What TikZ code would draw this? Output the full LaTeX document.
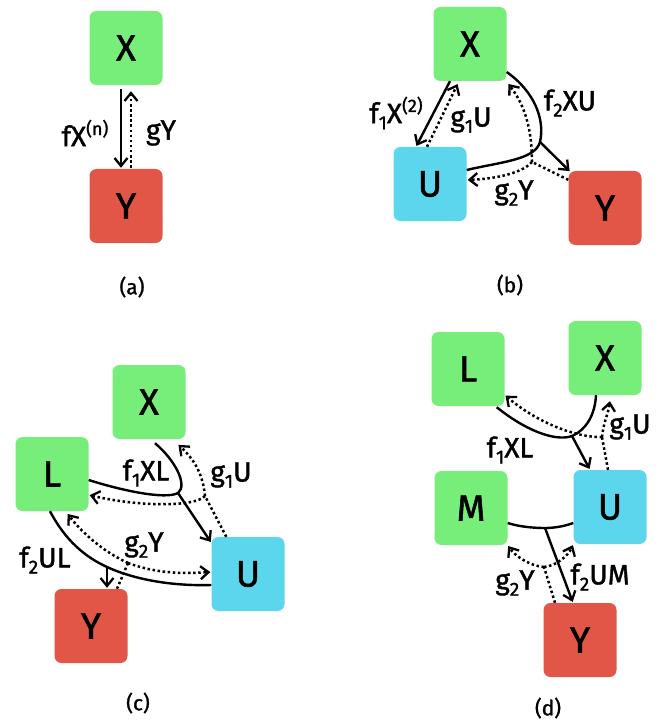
\documentclass[tikz,border=0pt]{standalone}
\usepackage{fontspec}
\setmainfont{Fira Sans}[FakeBold=1.3]
\usetikzlibrary{arrows.meta}
\definecolor{cgreen}{RGB}{120,238,122}
\definecolor{cred}{RGB}{226,86,72}
\definecolor{ccyan}{RGB}{92,214,236}
\newcommand\dsub[1]{\raisebox{-0.22em}{\fontsize{19}{19}\selectfont #1}}
\newcommand\dsup[1]{\raisebox{0.40em}{\fontsize{18}{18}\selectfont #1}}
\tikzset{
  box/.style={rounded corners=7pt, minimum width=73pt, minimum height=74pt, inner sep=0pt,
              font=\fontsize{37}{37}\selectfont},
  gnode/.style={box, fill=cgreen},
  rnode/.style={box, fill=cred},
  cnode/.style={box, fill=ccyan},
  sline/.style={line width=2.4pt},
  dline/.style={line width=2.5pt, dash pattern=on 2.5pt off 2.6pt},
  tip/.style={-{Straight Barb[length=8pt,width=13pt,line width=2.3pt]}, shorten >=1pt},
  lab/.style={font=\fontsize{28}{28}\selectfont, inner sep=0pt},
  capt/.style={font=\fontsize{21}{21}\selectfont, inner sep=0pt}
}
\begin{document}
\begin{tikzpicture}[x=1pt,y=-1pt]
\useasboundingbox (0,0) rectangle (662,722);

% ---------- (a)
\node[gnode] (aX) at (126,48) {X};
\node[rnode] (aY) at (126,206) {Y};
\draw[sline,tip,shorten <=4pt] ([xshift=-5pt]aX.south) -- ([xshift=-5pt]aY.north);
\draw[dline,tip,shorten <=1pt] ([xshift=5pt]aY.north) -- ([xshift=5pt,yshift=-5pt]aX.south);
\node[lab] (aL1) at (85,133) {fX\dsup{(n)}};
\node[lab] (aL2) at (161,133) {gY};
\node[capt] (aC) at (132,287) {(a)};

% ---------- (b)
\node[gnode] (bX) at (470,44) {X};
\node[cnode] (bU) at (430,184) {U};
\node[rnode] (bY) at (605,208) {Y};
\coordinate (bj1) at (540,142);
\coordinate (bj2) at (532,162);
\draw[sline,tip] ([xshift=-20pt]bX.south) -- ([xshift=-14pt]bU.north);
\draw[dline,tip] ([xshift=-3pt]bU.north) -- ([xshift=-12pt,yshift=-2pt]bX.south);
\draw[sline] ([yshift=-28pt]bX.east) .. controls (535,92) and (545,120) .. (bj1)
      .. controls (535,160) and (500,162) .. ([yshift=14pt]bU.east);
\draw[sline,tip] (bj1) -- ([xshift=2pt,yshift=-1pt]bY.north west);
\draw[dline] ([yshift=-9pt]bY.north west) -- (bj2);
\draw[dline,tip] (bj2) .. controls (532,130) and (525,105) .. ([xshift=1pt,yshift=-2pt]bX.south east);
\draw[dline,tip] (bj2) .. controls (520,175) and (490,179) .. ([yshift=4pt]bU.east);
\node[lab] (bL1) at (396,113) {f\dsub{1}X\dsup{(2)}};
\node[lab] (bL2) at (471,120) {g\dsub{1}U};
\node[lab] (bL3) at (570,103) {f\dsub{2}XU};
\node[lab] (bL4) at (514,193) {g\dsub{2}Y};
\node[capt] (bC) at (510,285) {(b)};

% ---------- (c)
\node[gnode] (cX) at (149,402) {X};
\node[gnode] (cL) at (52,474) {L};
\node[cnode] (cU) at (248,574) {U};
\node[rnode] (cY) at (91,626) {Y};
\coordinate (cj1) at (178,493);
\coordinate (cj2) at (205,496);
\coordinate (cj3) at (107,567);
\coordinate (cj4) at (128,563);
\draw[sline] ([xshift=6pt,yshift=-4pt]cX.south) .. controls (175,460) and (188,485) .. (cj1)
      .. controls (165,500) and (120,490) .. ([yshift=-6pt]cL.east);
\draw[sline,tip] (cj1) -- ([yshift=-6pt]cU.north west);
\draw[dline] ([xshift=15pt]cU.north west) -- (cj2);
\draw[dline,tip] (cj2) .. controls (203,475) and (195,460) .. ([xshift=-8pt,yshift=-5pt]cX.south east);
\draw[dline,tip] (cj2) .. controls (195,507) and (140,507) .. ([yshift=-21pt]cL.east);
\draw[sline] ([xshift=-2pt]cL.south) .. controls (65,540) and (85,557) .. (cj3)
      .. controls (140,582) and (180,586) .. ([yshift=-11pt]cU.west);
\draw[sline,tip] (cj3) -- ([xshift=16pt]cY.north);
\draw[dline] ([xshift=26pt]cY.north) -- (cj4);
\draw[dline,tip] (cj4) .. controls (100,550) and (80,530) .. ([xshift=15pt,yshift=-2pt]cL.south);
\draw[dline,tip] (cj4) .. controls (155,573) and (180,574) .. ([yshift=2pt]cU.west);
\node[lab] (cL1) at (146,473) {f\dsub{1}XL};
\node[lab] (cL2) at (231,475) {g\dsub{1}U};
\node[lab] (cL3) at (45,560) {f\dsub{2}UL};
\node[lab] (cL4) at (144,545) {g\dsub{2}Y};
\node[capt] (cC) at (138,703) {(c)};

% ---------- (d)
\node[gnode] (dL) at (468,369) {L};
\node[gnode] (dX) at (605,358) {X};
\node[gnode] (dM) at (471,508) {M};
\node[cnode] (dU) at (610,507) {U};
\node[rnode] (dY) at (580,640) {Y};
\coordinate (dj1) at (572,436);
\coordinate (dj2) at (602,437);
\coordinate (dj3) at (545,528);
\coordinate (dj4) at (544,567);
\draw[sline] ([xshift=-9pt]dX.south) .. controls (595,415) and (586,430) .. (dj1)
      .. controls (555,442) and (525,430) .. ([xshift=-8pt,yshift=-1pt]dL.south east);
\draw[sline,tip] (dj1) -- ([xshift=-20pt]dU.north);
\draw[dline] ([xshift=-2pt]dU.north) -- (dj2);
\draw[dline,tip] (dj2) .. controls (604,420) and (608,415) .. ([xshift=5pt,yshift=-5pt]dX.south);
\draw[dline,tip] (dj2) .. controls (580,438) and (540,425) .. ([yshift=-26pt]dL.east);
\draw[sline] ([yshift=-15pt]dM.east) .. controls (520,527) and (535,528) .. (dj3)
      .. controls (555,528) and (565,526) .. ([yshift=-16pt]dU.west);
\draw[sline,tip] (dj3) -- ([xshift=-7pt]dY.north);
\draw[dline] ([xshift=-25pt]dY.north) -- (dj4);
\draw[dline,tip] (dj4) .. controls (530,566) and (515,556) .. (dM.south east);
\draw[dline,tip] (dj4) .. controls (556,566) and (568,556) .. (dU.south west);
\node[lab] (dL1) at (510,450) {f\dsub{1}XL};
\node[lab] (dL2) at (630,427) {g\dsub{1}U};
\node[lab] (dL3) at (600,577) {f\dsub{2}UM};
\node[lab] (dL4) at (515,583) {g\dsub{2}Y};
\node[capt] (dC) at (548,708) {(d)};
\end{tikzpicture}
\end{document}
